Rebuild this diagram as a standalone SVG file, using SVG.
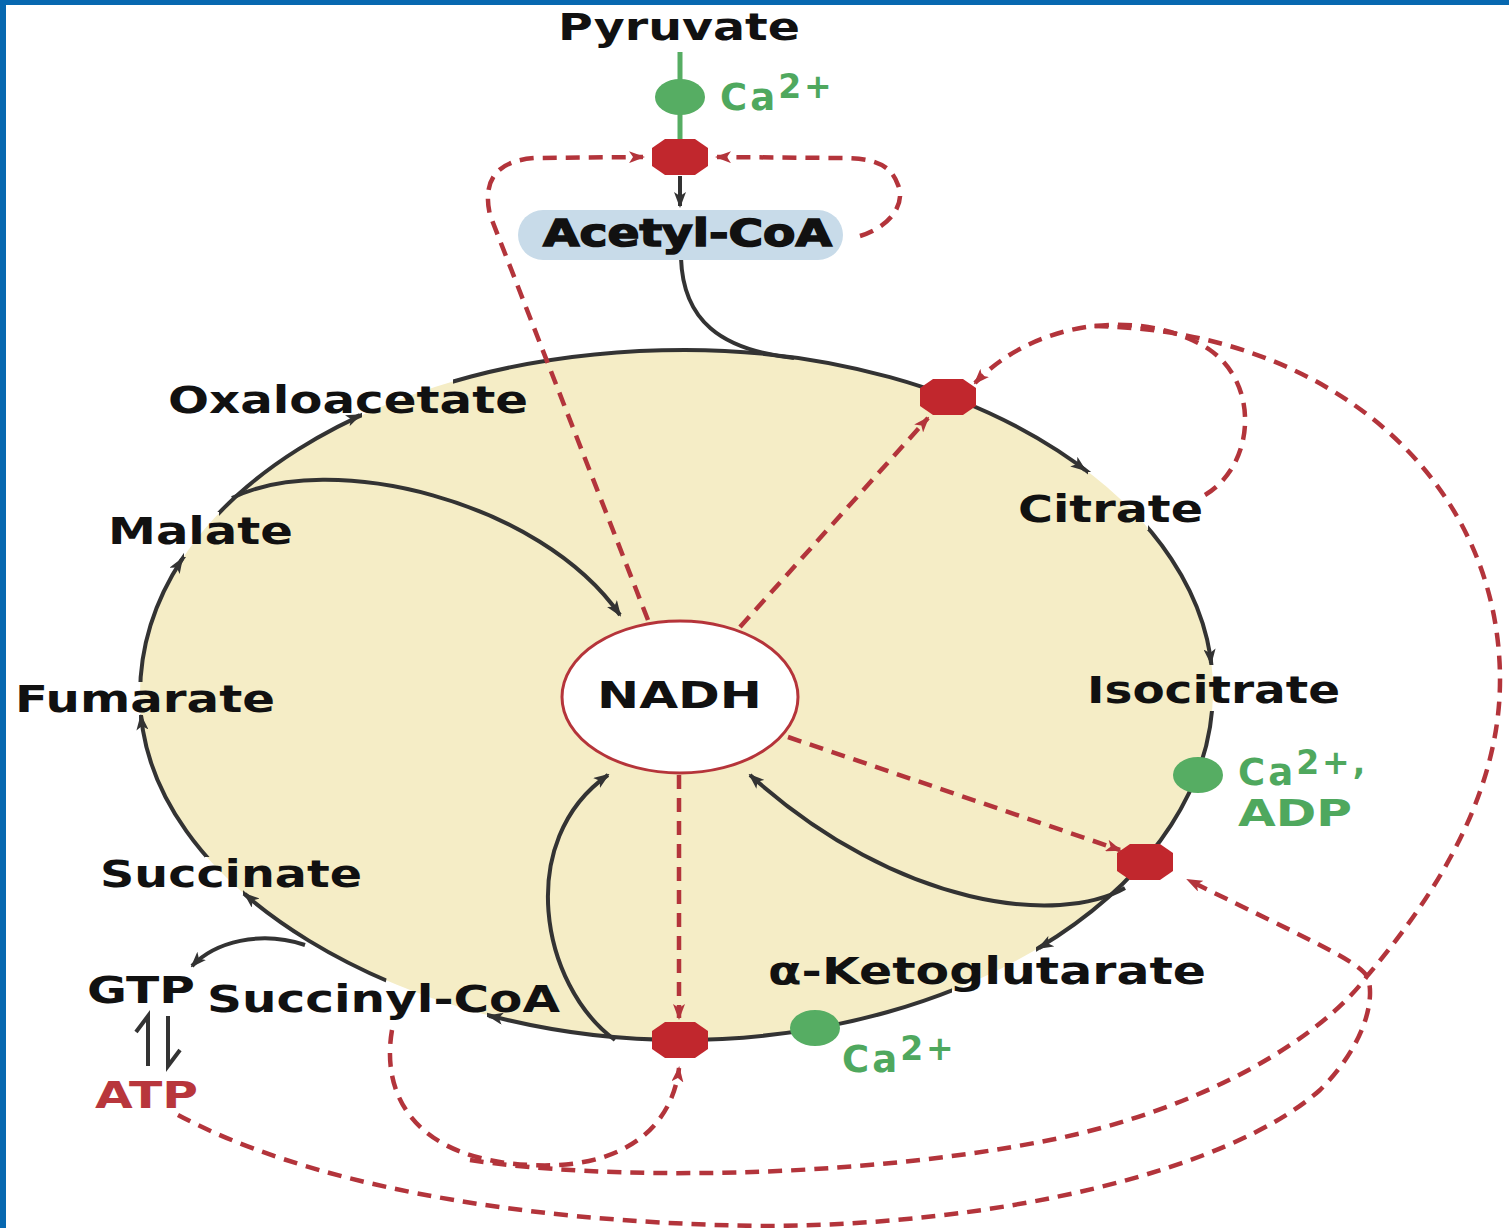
<svg xmlns="http://www.w3.org/2000/svg" width="1509" height="1228" viewBox="0 0 1509 1228">
<defs>
<style>
.lbl{font-family:"DejaVu Sans","Liberation Sans",sans-serif;font-weight:bold;font-size:37px;fill:#111}
.ca{font-family:"DejaVu Sans","Liberation Sans",sans-serif;font-weight:bold;font-size:37px;fill:#4fa85e;letter-spacing:3px}
.sup{font-size:33px}
.out{fill:none;stroke:#333;stroke-width:4}
.blk{fill:none;stroke:#333;stroke-width:4;marker-end:url(#ad)}
.dash{fill:none;stroke:#b3343b;stroke-width:4.5;stroke-dasharray:14 9}
.da{marker-end:url(#ar)}
.oct{fill:#c1272d}
.grn{fill:#56ad63}
</style>
<marker id="ad" markerUnits="userSpaceOnUse" viewBox="0 0 16 12" refX="14" refY="6" markerWidth="16" markerHeight="12" orient="auto"><path d="M0,0 L16,6 L0,12 L4,6 Z" fill="#333"/></marker>
<marker id="ar" markerUnits="userSpaceOnUse" viewBox="0 0 16 12" refX="14" refY="6" markerWidth="16" markerHeight="12" orient="auto"><path d="M0,0 L16,6 L0,12 L4,6 Z" fill="#b3343b"/></marker>
<path id="octp" d="M-28,-9 L-15,-18 L15,-18 L28,-9 L28,9 L15,18 L-15,18 L-28,9 Z"/>
<mask id="gaps" maskUnits="userSpaceOnUse" x="0" y="0" width="1509" height="1228">
<rect width="1509" height="1228" fill="#fff"/>
<g fill="#000">
<rect x="362" y="372" width="91" height="50"/>
<rect x="1088" y="472" width="60" height="58"/>
<rect x="1195" y="665" width="35" height="46"/>
<rect x="952" y="945" width="84" height="50"/>
<polygon points="487,1030 487,1008 388,972 383,995"/>
<rect x="205" y="857" width="38" height="38"/>
<rect x="125" y="682" width="35" height="33"/>
<rect x="184" y="512" width="35" height="45"/>
</g>
</mask>
</defs>

<g id="frame">
<rect x="0" y="0" width="1509" height="1228" fill="#fff"/>
<rect x="0" y="0" width="1509" height="5" fill="#0768b0"/>
<rect x="0" y="0" width="6" height="1228" fill="#0768b0"/>
</g>

<g id="cycle">
<path d="M685,350 C975,350 1213,505 1213,690 C1213,880 975,1040 680,1040 C410,1040 140,890 140,695 C140,500 380,350 685,350 Z" fill="#f5edc6"/>
<path class="out" mask="url(#gaps)" d="M685,350 C975,350 1213,505 1213,690 C1213,880 975,1040 680,1040 C410,1040 140,890 140,695 C140,500 380,350 685,350 Z"/>
</g>

<g id="connectors">
<path class="blk" d="M351,419 L360,415"/>
<path class="blk" d="M1077,464 L1085,470"/>
<path class="blk" d="M1210,653 L1211,663"/>
<path class="blk" d="M1048,943 L1039,948"/>
<path class="blk" d="M499,1018 L489,1016"/>
<path class="blk" d="M252,900 L245,894"/>
<path class="blk" d="M142,726 L141,716"/>
<path class="blk" d="M177,567 L182,559"/>
<path class="out" d="M681,258 C683,320 720,350 794,358"/>
<path class="blk" d="M680,176 L680,206"/>
<path class="blk" d="M232,498 C330,450 540,500 620,615"/>
<path class="blk" d="M615,1040 C540,985 515,840 608,775"/>
<path class="blk" d="M1125,888 C1060,925 900,910 750,775"/>
<path class="blk" d="M305,945 C260,930 215,942 192,966"/>
<path d="M148,1066 L148,1016 L136,1032" fill="none" stroke="#333" stroke-width="4"/>
<path d="M168,1016 L168,1066 L180,1050" fill="none" stroke="#333" stroke-width="4"/>
<path d="M680,52 L680,140" stroke="#56ad63" stroke-width="5"/>
<path class="dash da" d="M648,620 L490,215 Q478,162 535,158 L643,157"/>
<path class="dash da" d="M860,236 C895,225 905,200 898,185 C890,162 870,158 840,158 L717,157"/>
<path class="dash da" d="M740,627 L928,418"/>
<path class="dash da" d="M1205,495 C1255,465 1260,385 1210,350 C1150,310 1040,315 975,383"/>
<path class="dash da" d="M788,737 L1120,850"/>
<path class="dash da" d="M679,775 L679,1018"/>
<path class="dash da" d="M392,1030 C380,1100 420,1160 530,1165 C620,1170 672,1130 679,1068"/>
<path class="dash" d="M470,1160 C600,1180 850,1180 1050,1140 C1200,1110 1320,1040 1368,975 C1440,890 1500,790 1500,680 C1500,480 1330,330 1094,326"/>
<path class="dash da" d="M178,1115 C300,1180 500,1222 760,1226 C1000,1226 1230,1170 1320,1090 C1365,1045 1375,1000 1368,978 C1360,962 1320,945 1188,880"/>
</g>

<g id="nadh">
<ellipse cx="680" cy="697" rx="118" ry="76" fill="#fff" stroke="#b5343a" stroke-width="3"/>
<text class="lbl" x="597" y="708" textLength="165" lengthAdjust="spacingAndGlyphs">NADH</text>
</g>

<g id="pdh"><use href="#octp" class="oct" x="680" y="157"/></g>
<g id="cs"><use href="#octp" class="oct" x="948" y="397"/></g>
<g id="idh"><use href="#octp" class="oct" x="1145" y="862"/></g>
<g id="kgdh"><use href="#octp" class="oct" x="680" y="1040"/></g>

<g id="ca-top">
<ellipse class="grn" cx="680" cy="97" rx="25" ry="18"/>
<text class="ca" x="720" y="110">Ca<tspan class="sup" dy="-12">2+</tspan></text>
</g>
<g id="ca-idh">
<ellipse class="grn" cx="1198" cy="775" rx="25" ry="18"/>
<text class="ca" x="1238" y="785">Ca<tspan class="sup" dy="-11">2+,</tspan></text>
<text class="ca" x="1238" y="826" textLength="114" lengthAdjust="spacingAndGlyphs" style="letter-spacing:0">ADP</text>
</g>
<g id="ca-kgdh">
<ellipse class="grn" cx="815" cy="1028" rx="25" ry="18"/>
<text class="ca" x="842" y="1072">Ca<tspan class="sup" dy="-12">2+</tspan></text>
</g>

<g id="pyruvate"><text class="lbl" x="558" y="40" textLength="242" lengthAdjust="spacingAndGlyphs">Pyruvate</text></g>
<g id="acetyl-coa">
<rect x="518" y="210" width="325" height="50" rx="25" fill="#c8dbe9"/>
<text class="lbl" x="543" y="246" textLength="289" lengthAdjust="spacingAndGlyphs" stroke="#111" stroke-width="1.5">Acetyl-CoA</text>
</g>
<g id="oxaloacetate"><text class="lbl" x="168" y="413" textLength="360" lengthAdjust="spacingAndGlyphs">Oxaloacetate</text></g>
<g id="malate"><text class="lbl" x="108" y="544" textLength="185" lengthAdjust="spacingAndGlyphs">Malate</text></g>
<g id="fumarate"><text class="lbl" x="15" y="712" textLength="260" lengthAdjust="spacingAndGlyphs">Fumarate</text></g>
<g id="succinate"><text class="lbl" x="100" y="887" textLength="262" lengthAdjust="spacingAndGlyphs">Succinate</text></g>
<g id="citrate"><text class="lbl" x="1018" y="522" textLength="185" lengthAdjust="spacingAndGlyphs">Citrate</text></g>
<g id="isocitrate"><text class="lbl" x="1087" y="703" textLength="253" lengthAdjust="spacingAndGlyphs">Isocitrate</text></g>
<g id="akg"><text class="lbl" x="768" y="984" textLength="438" lengthAdjust="spacingAndGlyphs">α-Ketoglutarate</text></g>
<g id="succinyl-coa"><text class="lbl" x="207" y="1012" textLength="353" lengthAdjust="spacingAndGlyphs">Succinyl-CoA</text></g>
<g id="gtp"><text class="lbl" x="87" y="1003" textLength="108" lengthAdjust="spacingAndGlyphs">GTP</text></g>
<g id="atp"><text class="lbl" x="95" y="1108" textLength="103" lengthAdjust="spacingAndGlyphs" style="fill:#b8363c">ATP</text></g>
</svg>
